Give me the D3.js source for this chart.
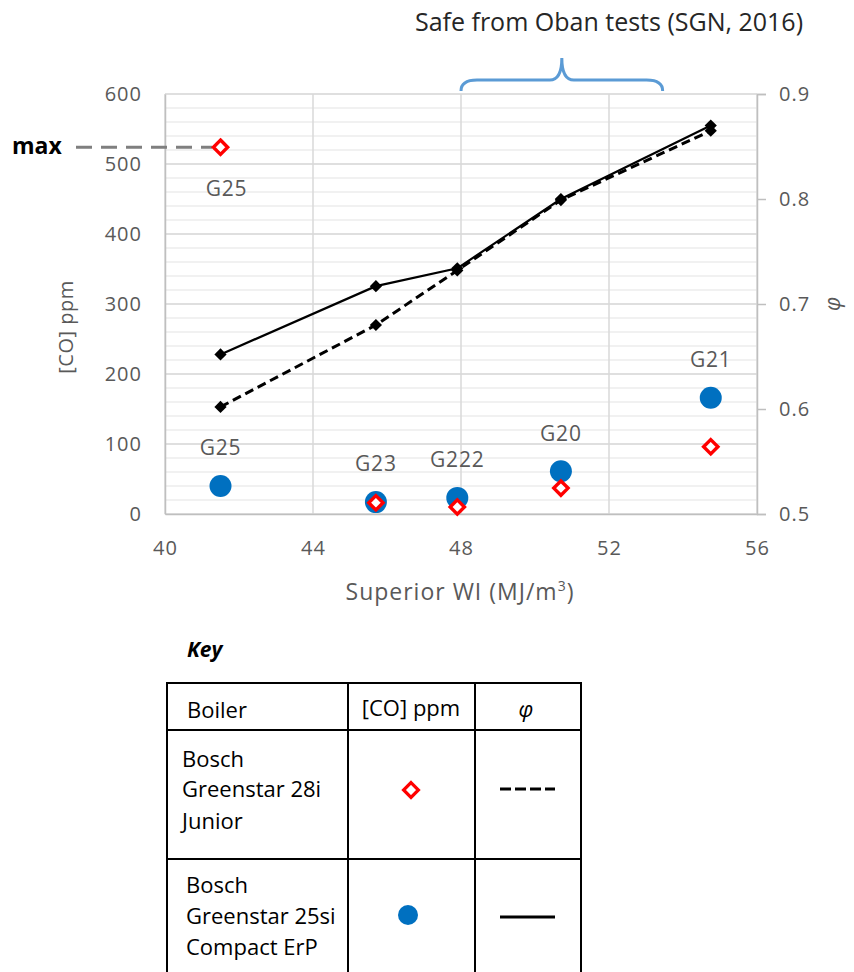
<!DOCTYPE html>
<html>
<head>
<meta charset="utf-8">
<script src="https://cdn.jsdelivr.net/npm/d3@7"></script>
<style>
  html, body { margin: 0; padding: 0; background: #fff; }
  svg { display: block; }
  text { font-family: "Open Sans", "Noto Sans", sans-serif; }
</style>
</head>
<body>
<svg id="chart" width="854" height="972"></svg>
<script>
// Test gases and their superior Wobbe index (MJ/m3)
const gases = ["G25", "G23", "G222", "G20", "G21"];
const wobbe = [41.5, 45.7, 47.9, 50.7, 54.75];

// Flue CO (ppm) for each boiler
const coJunior = [524, 16, 10, 37, 96];     // Bosch Greenstar 28i Junior
const coCompact = [40, 17, 23, 61, 166];    // Bosch Greenstar 25si Compact ErP

// Equivalence ratio φ for each boiler
const phiJunior = [0.602, 0.680, 0.732, 0.799, 0.865];
const phiCompact = [0.652, 0.717, 0.734, 0.800, 0.870];

// Axis ticks
const xTicks = [40, 44, 48, 52, 56];
const coTicks = [0, 100, 200, 300, 400, 500, 600];
const phiTicks = [0.5, 0.6, 0.7, 0.8, 0.9];
const coMinor = d3.range(0, 601, 20);

// Annotations
const maxCO = 524;
const safeRange = [48, 53.45];
const safeLabel = "Safe from Oban tests (SGN, 2016)";

// Key rows
const keyRows = [
  { name: ["Bosch", "Greenstar 28i", "Junior"], marker: "diamond", dash: true },
  { name: ["Bosch", "Greenstar 25si", "Compact ErP"], marker: "circle", dash: false }
];

const svg = d3.select("#chart");
const pLeft = 165, pRight = 757, pTop = 94, pBottom = 514;

const x = d3.scaleLinear().domain([40, 56]).range([pLeft, pRight]);
const yCO = d3.scaleLinear().domain([0, 600]).range([pBottom, pTop]);
const yPhi = d3.scaleLinear().domain([0.5, 0.9]).range([pBottom, pTop]);

const grey = "#595959";
const blue = "#0070C0";
const red = "#FF0000";

const tickStyle = sel => sel.attr("fill", grey).style("font-size", "20px")
  .style("letter-spacing", "1px").style("font-family", "'Open Sans', sans-serif");

// Minor gridlines
svg.append("g").selectAll("line").data(coMinor).join("line")
  .attr("x1", pLeft).attr("x2", pRight)
  .attr("y1", d => yCO(d)).attr("y2", d => yCO(d))
  .attr("stroke", "#ececec").attr("stroke-width", 1.5);

// Major gridlines
svg.append("g").selectAll("line").data(coTicks).join("line")
  .attr("x1", pLeft).attr("x2", pRight)
  .attr("y1", d => yCO(d)).attr("y2", d => yCO(d))
  .attr("stroke", "#d9d9d9").attr("stroke-width", 1.5);
svg.append("g").selectAll("line").data(xTicks).join("line")
  .attr("x1", d => x(d)).attr("x2", d => x(d))
  .attr("y1", pTop).attr("y2", pBottom)
  .attr("stroke", "#d9d9d9").attr("stroke-width", 1.5);

// Left axis
const axL = svg.append("g").attr("transform", `translate(${pLeft},0)`)
  .call(d3.axisLeft(yCO).tickValues(coTicks).tickSize(0).tickPadding(23));
axL.select(".domain").attr("stroke", "#bfbfbf").attr("stroke-width", 1.5);
axL.selectAll("text").call(tickStyle);

// Right axis
const axR = svg.append("g").attr("transform", `translate(${pRight},0)`)
  .call(d3.axisRight(yPhi).tickValues(phiTicks).tickSize(9).tickPadding(13).tickFormat(d3.format(".1f")));
axR.select(".domain").attr("stroke", "#bfbfbf").attr("stroke-width", 1.5);
axR.selectAll(".tick line").attr("stroke", "#bfbfbf").attr("stroke-width", 1.5);
axR.selectAll("text").call(tickStyle);

// Bottom axis
const axB = svg.append("g").attr("transform", `translate(0,${pBottom})`)
  .call(d3.axisBottom(x).tickValues(xTicks).tickSize(0).tickPadding(27));
axB.select(".domain").attr("stroke", "#bfbfbf").attr("stroke-width", 1.5);
axB.selectAll("text").call(tickStyle);

// Axis titles
svg.append("text").attr("transform", "translate(66,327) rotate(-90)")
  .attr("text-anchor", "middle").attr("dy", "0.35em").attr("fill", grey)
  .style("font-size", "20px").style("letter-spacing", "0.5px")
  .text("[CO] ppm");
const xt = svg.append("text").attr("x", 460).attr("y", 592).attr("dy", "0.35em")
  .attr("text-anchor", "middle").attr("fill", grey)
  .style("font-size", "23px").style("letter-spacing", "1px");
xt.append("tspan").text("Superior WI (MJ/m");
xt.append("tspan").text("3").style("font-size", "14px").attr("dy", -9);
xt.append("tspan").text(")").attr("dy", 9);
svg.append("text").attr("transform", "translate(833,304) rotate(-90)")
  .attr("text-anchor", "middle").attr("dy", "0.35em").attr("fill", grey)
  .style("font-size", "21px").style("font-style", "italic").text("φ");

// φ lines
const pts = (ys) => wobbe.map((w, i) => [w, ys[i]]);
const line = d3.line().x(d => x(d[0])).y(d => yPhi(d[1]));
svg.append("path").datum(pts(phiCompact)).attr("d", line)
  .attr("fill", "none").attr("stroke", "#000").attr("stroke-width", 2.2);
svg.append("path").datum(pts(phiJunior)).attr("d", line)
  .attr("fill", "none").attr("stroke", "#000").attr("stroke-width", 3)
  .attr("stroke-dasharray", "9 5");
const diamond = d3.symbol().type(d3.symbolDiamond2);
[phiCompact, phiJunior].forEach(series => {
  svg.append("g").selectAll("path").data(pts(series)).join("path")
    .attr("transform", d => `translate(${x(d[0])},${yPhi(d[1])})`)
    .attr("d", diamond.size(95)).attr("fill", "#000");
});

// "max" reference
svg.append("line").attr("x1", 76).attr("x2", 212)
  .attr("y1", yCO(maxCO)).attr("y2", yCO(maxCO))
  .attr("stroke", "#7f7f7f").attr("stroke-width", 3).attr("stroke-dasharray", "16 9");
svg.append("text").attr("x", 12).attr("y", yCO(maxCO)).attr("dy", "0.3em")
  .style("font-size", "23px").style("font-weight", "bold").attr("fill", "#000").text("max");

// CO markers
svg.append("g").selectAll("circle").data(pts(coCompact)).join("circle")
  .attr("cx", d => x(d[0])).attr("cy", d => yCO(d[1])).attr("r", 11).attr("fill", blue);
svg.append("g").selectAll("path").data(pts(coJunior)).join("path")
  .attr("transform", d => `translate(${x(d[0])},${yCO(d[1])})`)
  .attr("d", diamond.size(130)).attr("fill", "#fff").attr("stroke", red).attr("stroke-width", 3.4);

// Gas labels
const lab = svg.append("g").attr("fill", grey).style("font-size", "21px")
  .style("letter-spacing", "0.8px").attr("text-anchor", "middle");
gases.forEach((g, i) => {
  lab.append("text").attr("x", x(wobbe[i]))
    .attr("y", yCO(coCompact[i]) - 38).attr("dy", "0.35em").text(g);
});
lab.append("text").attr("x", x(wobbe[0]) + 6).attr("y", yCO(coJunior[0]) + 41)
  .attr("dy", "0.35em").text(gases[0]);

// Safe range brace
const bx0 = x(safeRange[0]), bx1 = x(safeRange[1]), bm = (bx0 + bx1) / 2;
const by = 80, bEnd = 11, bSpike = 22;
svg.append("path")
  .attr("d", `M${bx0},${by + bEnd} Q${bx0},${by} ${bx0 + 16},${by} L${bm - 12},${by} Q${bm},${by} ${bm},${by - bSpike} Q${bm},${by} ${bm + 12},${by} L${bx1 - 16},${by} Q${bx1},${by} ${bx1},${by + bEnd}`)
  .attr("fill", "none").attr("stroke", "#5B9BD5").attr("stroke-width", 3);
svg.append("text").attr("x", 609).attr("y", 22).attr("dy", "0.35em")
  .attr("text-anchor", "middle").attr("fill", "#262626").style("font-size", "25px")
  .text(safeLabel);

// Key
svg.append("text").attr("x", 187).attr("y", 650).attr("dy", "0.35em")
  .style("font-size", "21px").style("font-weight", "bold").style("font-style", "italic")
  .attr("fill", "#000").text("Key");

const cols = [167, 348, 475, 581];
const rowsY = [683, 730, 859, 990];
const key = svg.append("g");
rowsY.forEach(yv => key.append("line").attr("x1", cols[0] - 1).attr("x2", cols[3] + 1)
  .attr("y1", yv).attr("y2", yv).attr("stroke", "#000").attr("stroke-width", 2));
cols.forEach(xv => key.append("line").attr("x1", xv).attr("x2", xv)
  .attr("y1", rowsY[0]).attr("y2", rowsY[3]).attr("stroke", "#000").attr("stroke-width", 2));

const kt = key.append("g").style("font-size", "22px").attr("fill", "#000");
kt.append("text").attr("x", 187).attr("y", 710).attr("dy", "0.35em").text("Boiler");
kt.append("text").attr("x", 411).attr("y", 708).attr("dy", "0.35em").attr("text-anchor", "middle").text("[CO] ppm");
kt.append("text").attr("x", 526).attr("y", 709).attr("dy", "0.35em").attr("text-anchor", "middle")
  .style("font-style", "italic").text("φ");

const keyLayout = [
  { textX: 182, lines: [29, 59, 91], sym: [411, 60], line: 59 },
  { textX: 186, lines: [26, 57, 88], sym: [408, 56], line: 58 }
];
keyRows.forEach((r, ri) => {
  const yTop = rowsY[ri + 1], L = keyLayout[ri];
  r.name.forEach((s, li) => {
    kt.append("text").attr("x", L.textX).attr("y", yTop + L.lines[li]).attr("dy", "0.35em").text(s);
  });
  if (r.marker === "diamond") {
    key.append("path").attr("transform", `translate(${L.sym[0]},${yTop + L.sym[1]})`)
      .attr("d", diamond.size(140)).attr("fill", "#fff").attr("stroke", red).attr("stroke-width", 3.2);
  } else {
    key.append("circle").attr("cx", L.sym[0]).attr("cy", yTop + L.sym[1]).attr("r", 10).attr("fill", blue);
  }
  key.append("line").attr("x1", 500).attr("x2", 555)
    .attr("y1", yTop + L.line).attr("y2", yTop + L.line)
    .attr("stroke", "#000").attr("stroke-width", 3)
    .attr("stroke-dasharray", r.dash ? "11 4" : null);
});
</script>
</body>
</html>
